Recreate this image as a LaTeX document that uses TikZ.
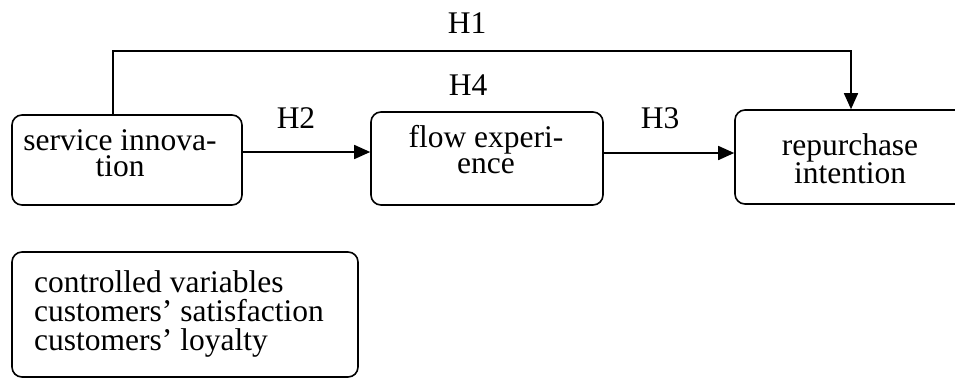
\documentclass[tikz,border=0pt]{standalone}
\usepackage{fontspec}
\setmainfont{Liberation Serif}
\usetikzlibrary{arrows.meta}
\begin{document}
\begin{tikzpicture}[x=1pt,y=-1pt,
  box/.style={draw,line width=1.6pt,rounded corners=10pt,inner sep=0pt},
  line/.style={inner sep=0pt,anchor=base,font=\fontsize{31.5}{30}\selectfont},
  upper/.style={line,text depth=0pt},
  lower/.style={line,text height=14pt},
  leftline/.style={line,anchor=base west},
  link/.style={line width=1.6pt,-{Triangle[length=16pt,width=14pt]}}]
\useasboundingbox (0,0) rectangle (955,378);
\clip (0,0) rectangle (955,378);

% construct boxes
\node[box,minimum width=230pt,minimum height=90pt] (si) at (127,160) {};
\node[box,minimum width=232pt,minimum height=93pt] (fe) at (487,158.5) {};
\node[box,minimum width=230pt,minimum height=94pt] (ri) at (850,157) {};
\node[box,minimum width=346pt,minimum height=125pt] (cv) at (185,314.5) {};

% box texts, one node per printed line
\node[upper] (siA) at (120,150) {service innova-};
\node[lower] (siB) at (120,176.5) {tion};
\node[upper] (feA) at (486,147.5) {flow experi-};
\node[lower] (feB) at (486,173) {ence};
\node[upper] (riA) at (850,155) {repurchase};
\node[lower] (riB) at (850,183.5) {intention};
\node[leftline] (cvA) at (34,292) {controlled variables};
\node[leftline] (cvB) at (34,321) {customers’ satisfaction};
\node[leftline] (cvC) at (34,350) {customers’ loyalty};

% hypothesis paths
\coordinate (h1L) at (113,51);
\coordinate (h1R) at (851,51);
\coordinate (h2) at (0,152);
\coordinate (h3) at (0,153);
\draw[link] (si.north -| h1L) -- (h1L) -- (h1R) -- (ri.north -| h1R);
\draw[link] (si.east |- h2) -- (fe.west |- h2);
\draw[link] (fe.east |- h3) -- (ri.west |- h3);

% hypothesis labels
\node[line] (H1) at (467,33) {H1};
\node[line] (H4) at (468,95) {H4};
\node[line] (H2) at (296,128) {H2};
\node[line] (H3) at (660,128) {H3};
\end{tikzpicture}
\end{document}
